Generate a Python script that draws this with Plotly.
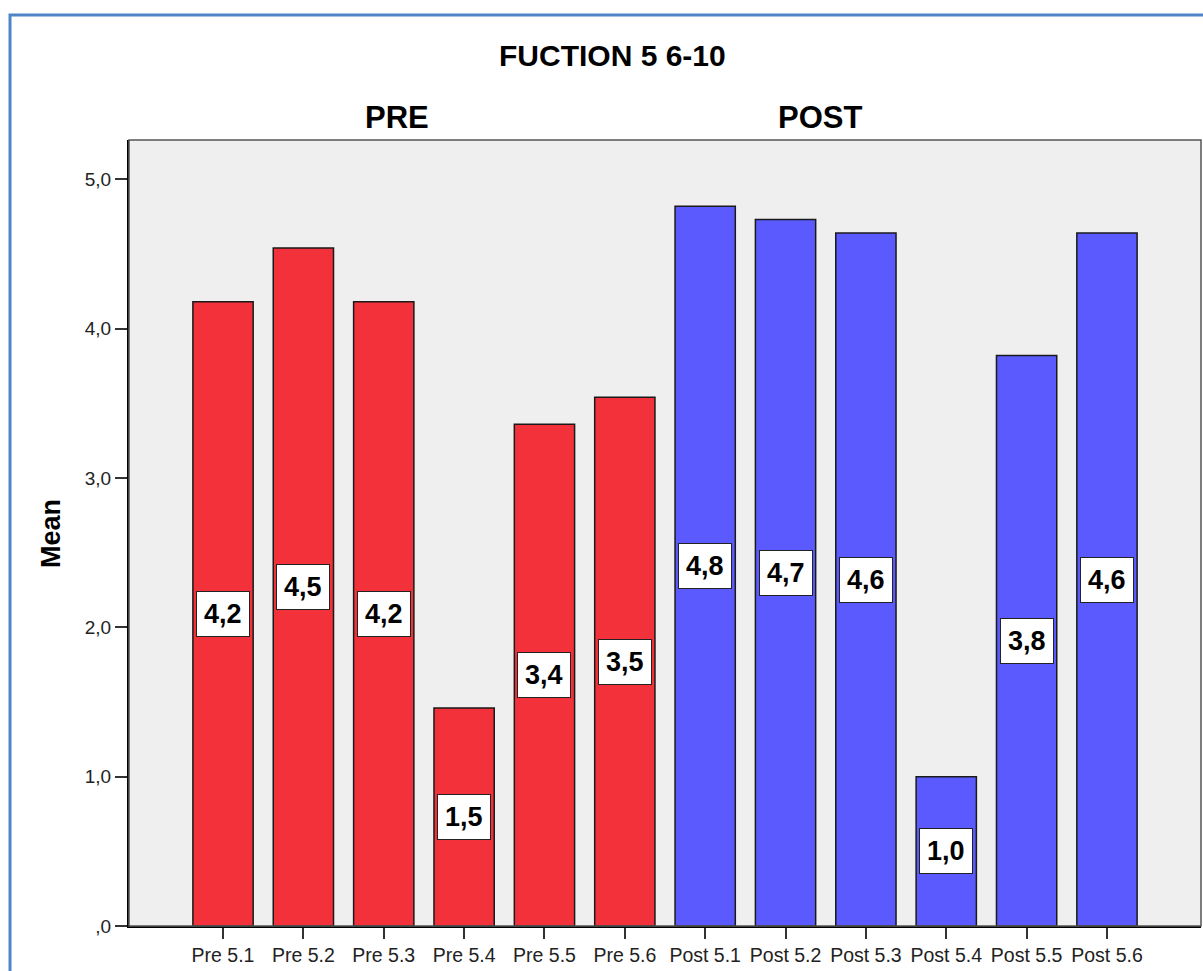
import plotly.graph_objects as go

# Item means for the two measurement occasions
pre_items = ["Pre 5.1", "Pre 5.2", "Pre 5.3", "Pre 5.4", "Pre 5.5", "Pre 5.6"]
pre_means = [4.18, 4.54, 4.18, 1.46, 3.36, 3.54]

post_items = ["Post 5.1", "Post 5.2", "Post 5.3", "Post 5.4", "Post 5.5", "Post 5.6"]
post_means = [4.82, 4.73, 4.64, 1.00, 3.82, 4.64]

y_ticks = [0, 1, 2, 3, 4, 5]
y_ticktext = [",0", "1,0", "2,0", "3,0", "4,0", "5,0"]

RED = "#F2313A"
BLUE = "#5A5AFF"
FONT = "Liberation Sans, Arial, sans-serif"


def comma(v):
    return f"{v:.1f}".replace(".", ",")


fig = go.Figure()
fig.add_trace(go.Bar(x=pre_items, y=pre_means, width=0.75,
                     marker=dict(color=RED, line=dict(color="#1a1a1a", width=1.5)),
                     hoverinfo="x+y", showlegend=False))
fig.add_trace(go.Bar(x=post_items, y=post_means, width=0.75,
                     marker=dict(color=BLUE, line=dict(color="#1a1a1a", width=1.5)),
                     hoverinfo="x+y", showlegend=False))

# Value boxes in the middle of each bar
for items, means in ((pre_items, pre_means), (post_items, post_means)):
    for name, v in zip(items, means):
        fig.add_annotation(x=name, y=v / 2, xref="x", yref="y", text=f"<b>{comma(v)}</b>",
                           showarrow=False, bgcolor="white", bordercolor="#222",
                           borderwidth=1, borderpad=7,
                           font=dict(family=FONT, size=27, color="black"))

# Title and panel headings
heading = dict(xref="paper", yref="paper", showarrow=False, xanchor="center", yanchor="middle")
fig.add_annotation(x=0.4506, y=1.107, text="<b>FUCTION 5 6-10</b>",
                   font=dict(family=FONT, size=30, color="black"), **heading)
fig.add_annotation(x=0.25, y=1.029, text="<b>PRE</b>",
                   font=dict(family=FONT, size=31, color="black"), **heading)
fig.add_annotation(x=0.6446, y=1.029, text="<b>POST</b>",
                   font=dict(family=FONT, size=31, color="black"), **heading)
fig.add_annotation(x=-0.0728, y=0.5, text="<b>Mean</b>", textangle=-90,
                   font=dict(family=FONT, size=27, color="black"), **heading)

# Frame of the plot area and outer chart border
fig.add_shape(type="rect", xref="paper", yref="paper", x0=0, y0=0, x1=1, y1=1,
              line=dict(color="#555555", width=1.5), layer="above")
fig.add_shape(type="rect", xref="paper", yref="paper", x0=-0.111, y0=-0.2, x1=1.2, y1=1.159,
              line=dict(color="#4F84C8", width=3), layer="above")

fig.update_layout(
    width=1203, height=971,
    margin=dict(l=129, r=2, t=140, b=45),
    paper_bgcolor="white", plot_bgcolor="#EFEFEF",
    barmode="overlay",
    font=dict(family=FONT, color="#222"),
    xaxis=dict(type="category", categoryorder="array", categoryarray=pre_items + post_items,
               range=[-1.17, 12.17], showgrid=False, zeroline=False,
               showline=True, linecolor="black", linewidth=2,
               ticks="outside", ticklen=11, tickwidth=2, tickcolor="#333",
               tickfont=dict(family=FONT, size=19.5, color="#222")),
    yaxis=dict(range=[0, 5.263], tickvals=y_ticks, ticktext=y_ticktext,
               showgrid=False, zeroline=False,
               showline=True, linecolor="black", linewidth=2,
               ticks="outside", ticklen=12, tickwidth=2, tickcolor="#333",
               tickfont=dict(family=FONT, size=19, color="#222")),
)

fig.write_html("out.html")
